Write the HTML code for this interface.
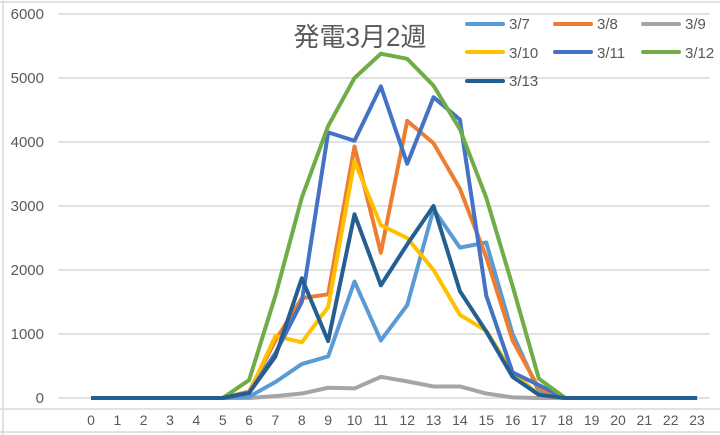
<!DOCTYPE html><html><head><meta charset="utf-8"><style>body{margin:0;background:#fff}svg{display:block}</style></head><body>
<svg width="720" height="435" xmlns="http://www.w3.org/2000/svg" font-family="Liberation Sans, Noto Sans CJK JP, sans-serif">
<rect width="720" height="435" fill="#fff"/>
<g stroke="#d9d9d9" stroke-width="1.5">
<line x1="0" y1="2" x2="720" y2="2"/><line x1="58" y1="14" x2="710" y2="14"/><line x1="58" y1="78" x2="710" y2="78"/><line x1="58" y1="142" x2="710" y2="142"/><line x1="58" y1="206" x2="710" y2="206"/><line x1="58" y1="270" x2="710" y2="270"/><line x1="58" y1="334" x2="710" y2="334"/><line x1="58" y1="398" x2="710" y2="398"/>
<line x1="0" y1="409" x2="720" y2="409"/><line x1="3" y1="0" x2="3" y2="435"/><line x1="0" y1="432" x2="720" y2="432"/>
</g>
<g font-size="15" fill="#595959" text-anchor="end">
<text x="44" y="19">6000</text><text x="44" y="83">5000</text><text x="44" y="147">4000</text><text x="44" y="211">3000</text><text x="44" y="275">2000</text><text x="44" y="339">1000</text><text x="44" y="403">0</text>
</g>
<g font-size="14" fill="#595959" text-anchor="middle" id="xl"></g>
<text x="360" y="46" font-size="26" fill="#595959" text-anchor="middle">発電3月2週</text>
<g id="series" fill="none" stroke-width="4" stroke-linejoin="round"></g>
<g stroke-width="4" stroke-linecap="round">
<line x1="467" y1="24" x2="503" y2="24" stroke="#5B9BD5"/><line x1="555" y1="24" x2="591" y2="24" stroke="#ED7D31"/><line x1="643" y1="24" x2="679" y2="24" stroke="#A5A5A5"/>
<line x1="467" y1="52" x2="503" y2="52" stroke="#FFC000"/><line x1="555" y1="52" x2="591" y2="52" stroke="#4472C4"/><line x1="643" y1="52" x2="679" y2="52" stroke="#70AD47"/>
<line x1="467" y1="81" x2="503" y2="81" stroke="#255E91"/>
</g>
<g font-size="15" fill="#595959">
<text x="509" y="29">3/7</text><text x="597" y="29">3/8</text><text x="685" y="29">3/9</text>
<text x="509" y="58">3/10</text><text x="597" y="58">3/11</text><text x="685" y="58">3/12</text>
<text x="509" y="86">3/13</text>
</g>
<script>
var NS="http://www.w3.org/2000/svg";
function X(i){return 91+i*26.35}function Y(v){return 398-v*0.064}
var xl=document.getElementById('xl');
for(var i=0;i<24;i++){var t=document.createElementNS(NS,'text');t.setAttribute('x',X(i));t.setAttribute('y',425);t.textContent=i;xl.appendChild(t);}
function mk(d){var a=[0,0,0,0,0,0].concat(d);while(a.length<24)a.push(0);return a}
var S=[
["#A5A5A5",mk([0,30,70,160,150,330,260,180,180,70,10,0])],
["#5B9BD5",mk([20,250,530,650,1820,900,1450,2950,2350,2430,1000,100])],
["#ED7D31",mk([100,900,1560,1620,3930,2270,4330,3980,3270,2200,900,150])],
["#FFC000",mk([80,970,870,1420,3700,2700,2500,2000,1300,1050,400,50])],
["#4472C4",mk([80,700,1500,4150,4020,4870,3660,4700,4350,1600,400,200])],
["#70AD47",mk([280,1600,3130,4250,5000,5380,5300,4880,4200,3130,1750,300])],
["#255E91",mk([80,650,1870,890,2870,1760,2400,3000,1670,1040,330,50])]];
var g=document.getElementById('series');
S.forEach(function(s){var p=document.createElementNS(NS,'polyline');p.setAttribute('stroke',s[0]);p.setAttribute('points',s[1].map(function(v,i){return X(i)+','+Y(v)}).join(' '));g.appendChild(p);});
</script>
</svg>
</body></html>
